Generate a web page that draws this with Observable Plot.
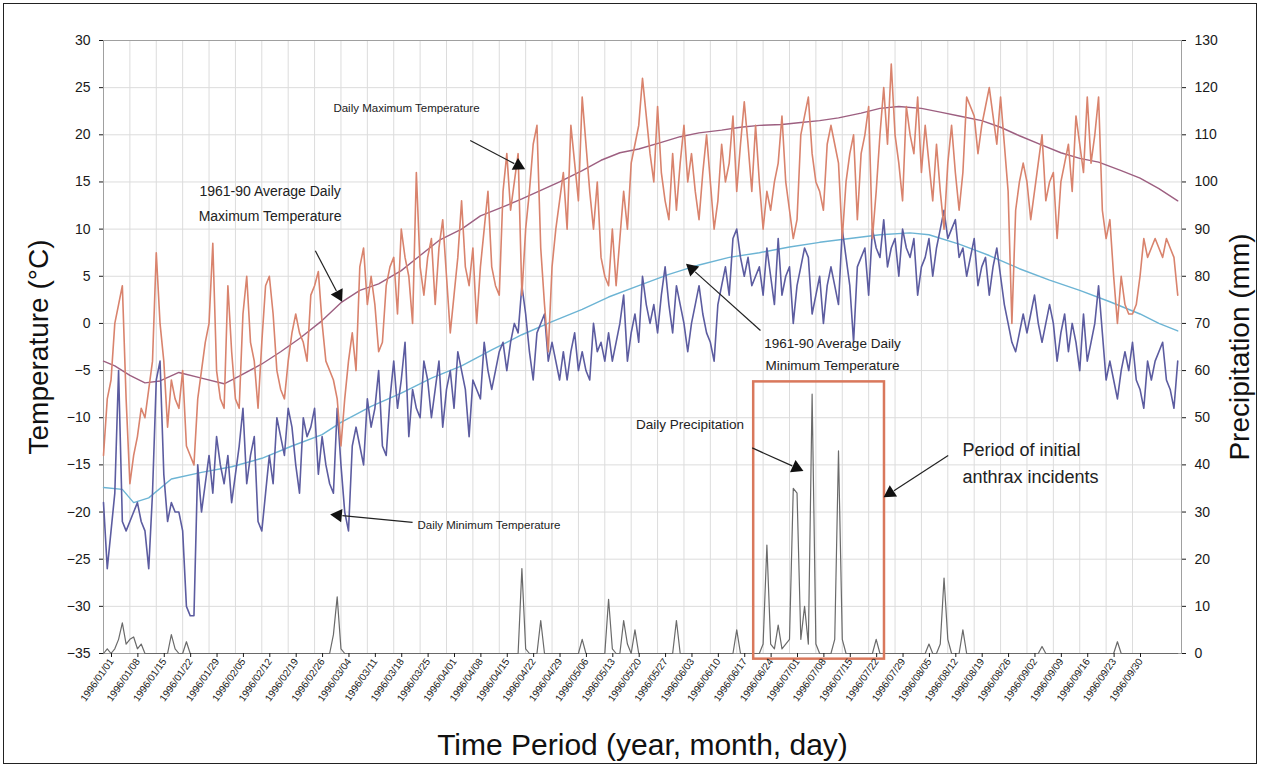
<!DOCTYPE html>
<html><head><meta charset="utf-8">
<script src="https://cdn.jsdelivr.net/npm/d3@7"></script>
<script src="https://cdn.jsdelivr.net/npm/@observablehq/plot@0.6"></script>
<style>
body{margin:0;background:#fff;}
#wrap{position:relative;width:1261px;height:766px;overflow:hidden;}
#border{position:absolute;left:3px;top:3px;width:1252px;height:759px;border:1.5px solid #222;pointer-events:none;}
</style></head>
<body><div id="wrap"><div id="chart"></div><div id="border"></div></div>
<script>
// ---- Data (daily series starting at the first category) ----
const tickLabels = ["1996/01/01","1996/01/08","1996/01/15","1996/01/22","1996/01/29","1996/02/05","1996/02/12","1996/02/19","1996/02/26","1996/03/04","1996/03/11","1996/03/18","1996/03/25","1996/04/01","1996/04/08","1996/04/15","1996/04/22","1996/04/29","1996/05/06","1996/05/13","1996/05/20","1996/05/27","1996/06/03","1996/06/10","1996/06/17","1996/06/24","1996/07/01","1996/07/08","1996/07/15","1996/07/22","1996/07/29","1996/08/05","1996/08/12","1996/08/19","1996/08/26","1996/09/02","1996/09/09","1996/09/16","1996/09/23","1996/09/30"];
const tempTicks = [-35,-30,-25,-20,-15,-10,-5,0,5,10,15,20,25,30];
const precipTicks = [0,10,20,30,40,50,60,70,80,90,100,110,120,130];

const maxTemp = [
-14,-8,-6,0,2,4,-8,-17,-14,-12,
-9,-10,-7,-4,7.5,0,-4,-11,-6,-8,
-9,-5,-13,-14,-15,-8,-5,-2,0,8.5,
-5,-8,-9,4,-3,-8,-9,1,5,-2,
-4,-9,-2,4,5,1,-5,-7,-8,-4,
-1,1,-1,-2,-4,3,4,5.5,0,-4,
-5,-6,-8,-13,-8,-4,-1,-5,6,8,
2,5,2,-3,-2,4,6,7,1,10,
7,5,0,16,6,3,7,9,2,8,
11,5,-1,3,7,13,6,4,8,0,
6,10,14,6,4,3,14,18,12,15,
18,3,10,14,19,21,8,2,-3,6,
10,13,16,10,21,17,13,24,19,14,
10,15,7,5,4,10,4,9,14,10,
17,19,21,26,22,18,15,23,16,13,
11,18,12,17,21,15,18,14,11,16,
20,15,10,13,19,15,17,22,14,19,
23.5,19,14,21,15,10,14,12,15,17,
22,15,12,9,11,20,22,24,18,15,
14,12,19,21,19,17,9,15,18,20,
11,18,20,23,9,14,20,25,19,27.5,
20,17,13,23,20,18,24,16,21,17,
13,19,14,10,17,21,16,12,16,24,
23,22,18,21,23,25,22,19,24,19,
14,0,12,15,17,15,11,14,17,20,
13,15,16,9,15,17,19,14,22,19,
16,24,17,20,24,12,9,11,5,0,
5,2,1,1,2,5,9,7,8,9,
8,7,9,8,7,3];

const minTemp = [
-19,-26,-22,-18,-5,-21,-22,-21,-20,-19,
-21,-22,-26,-18,-6,-4,-16,-21,-19,-20,
-20,-22,-30,-31,-31,-15,-20,-17,-14,-18,
-12,-15,-17,-14,-19,-16,-13,-9,-17,-14,
-12,-21,-22,-18,-14,-17,-10,-12,-14,-9,
-11,-15,-18,-10,-12,-11,-9,-16,-12,-15,
-17,-18,-9,-15,-20,-22,-13,-11,-13,-15,
-8,-11,-9,-5,-13,-14,-8,-4,-9,-6,
-2,-12,-7,-9,-10,-4,-6,-10,-7,-4,
-11,-7,-5,-9,-3,-5,-7,-12,-6,-7,
-8,-2,-5,-7,-5,-3,-2,-5,-2,0,
-1,4,1,-3,-6,-1,0,1,-4,-2,
-4,-6,-3,-6,-3,-1,-5,-3,-5,-6,
0,-3,-2,-4,-1,-4,-2,0,3,-4,
-1,1,-2,5,2,0,2,-1,3,6,
2,-1,4,2,0,-3,0,2,4,1,
-1,-2,-4,2,4,6,3,9,10,7,
5,7,4,5,6,3,8,5,2,9,
3,5,6,0,4,6,8,7,1,3,
5,0,4,6,4,2,10,7,4,-2,
6,7,8,3,10,8,7,11,6,8,
9,5,10,8,7,9,3,6,7,9,
5,8,10,12,9,10,11,7,8,5,
7,9,4,6,7,3,6,8,5,2,
0,-2,-3,-1,1,-1,1,3,0,-2,
0,2,0,-4,-1,1,-3,0,-2,-5,
1,-4,-2,0,4,-1,-6,-4,-6,-8,
-5,-3,-5,-2,-6,-7,-9,-4,-6,-4,
-3,-2,-6,-7,-9,-4];

const avgMaxDay  = [0,3,7,11,15,20,26,32,36,42,47,52,58,63,68,73,79,84,89,95,100,105,111,116,121,127,132,137,142,148,153,158,164,169,174,180,185,190,195,201,206,211,217,222,227,233,238,243,249,254,259,264,270,275,280,285];
const avgMaxTemp = [-4,-4.5,-5.5,-6.3,-6.1,-5.2,-5.8,-6.4,-5.6,-4.3,-3,-1.6,0.3,2.2,3.5,4.2,5.6,7.2,8.8,10,11.4,12.2,13.2,14.1,15,16.2,17.3,18.1,18.5,19.2,19.8,20.2,20.5,20.8,21,21.1,21.3,21.5,21.8,22.3,22.8,23,22.8,22.4,22,21.5,20.8,19.9,18.9,18.1,17.5,17.1,16.2,15.4,14.3,13];
const avgMinDay  = [0,5,8,12,18,26,34,42,50,58,63,71,79,87,95,103,111,119,127,134,142,150,158,166,174,182,190,198,206,214,219,227,235,243,251,259,267,275,280,285];
const avgMinTemp = [-17.4,-17.6,-19,-18.5,-16.5,-15.8,-15.2,-14.3,-13,-11.8,-10.5,-8.8,-7.4,-5.8,-4.5,-2.8,-1.2,0.2,1.5,2.8,4,5.2,6.2,7,7.5,8.1,8.6,9,9.4,9.6,9.4,8.4,7.2,5.8,4.6,3.5,2.3,1,0,-0.8];

const precip = [
0,1,0,1,3,6.5,2,3,3.5,1,
2,0,0,0,0,0,0,0,4,1,
0,0,2.5,0,0,0,0,0,0,0,
0,0,0,0,0,0,0,0,0,0,
0,0,0,0,0,0,0,0,0,0,
0,0,0,0,0,0,0,0,0,0,
0,4,12,1,0,0,0,0,0,0,
0,0,0,0,0,0,0,0,0,0,
0,0,0,0,0,0,0,0,0,0,
0,0,0,0,0,0,0,0,0,0,
0,0,0,0,0,0,0,0,0,0,
0,18,1,0,0,0,7,0,0,0,
0,0,0,0,0,0,0,3,0,0,
0,0,0,0,11.5,1,0,0,7,2,
0,5,0,0,0,0,0,0,0,0,
0,0,7,0,0,0,0,0,0,0,
0,0,0,0,0,0,0,0,5,0,
0,0,0,0,0,2,23,2,1,6,
1,2,3,35,34,3,10,2,55,2,
0,0,0,0,3,43,3,0,0,0,
0,0,0,0,0,3,0,0,0,0,
0,0,0,0,0,0,0,0,0,2,
0,0,2,16,3,0,0,0,5,0,
0,0,0,0,0,0,0,0,0,0,
0,0,0,0,0,0,0,0,0,1.5,
0,0,0,0,0,0,0,0,0,0,
0,0,0,0,0,0,0,0,0,2.5,
0,0,0,0,0,0,0,0,0,0,
0,0,0,0,0,0];

// Annotations (data coordinates: day index, temperature)
const labels = [
  {d: 61, t: 23.0, text: "Daily Maximum Temperature", anchor: "start", size: 11.5, lh: 1.4},
  {d: 44.2, t: 13.0, text: "1961-90 Average Daily\nMaximum Temperature", anchor: "middle", size: 14, lh: 1.8},
  {d: 193.4, t: -3.0, text: "1961-90 Average Daily\nMinimum Temperature", anchor: "middle", size: 13.5, lh: 1.65},
  {d: 155.6, t: -10.6, text: "Daily Precipitation", anchor: "middle", size: 13.5, lh: 1.4},
  {d: 227.9, t: -14.6, text: "Period of initial\nanthrax incidents", anchor: "start", size: 18, lh: 1.45},
  {d: 83.3, t: -21.2, text: "Daily Minimum Temperature", anchor: "start", size: 11.5, lh: 1.4}
];
const arrows = [
  {x1: 97.3, y1: 19.4, x2: 111.1, y2: 16.5},
  {x1: 56.2, y1: 7.7, x2: 62.9, y2: 2.6},
  {x1: 174.3, y1: -0.75, x2: 155.2, y2: 6.1},
  {x1: 172.1, y1: -13.2, x2: 184.9, y2: -15.5},
  {x1: 224.1, y1: -14.0, x2: 207.7, y2: -18.25},
  {x1: 82, y1: -21.1, x2: 61, y2: -20.3}
];
const periodBox = [{d1: 172.5, d2: 207.2, t1: -35.6, t2: -6.2}];

// ---- Layout ----
const W = 1261, H = 766, ML = 103, MR = 80, MT = 40, MB = 113;
const xDomain = [0, 286], yDomain = [-35, 30];
const precipToT = p => -35 + p * (yDomain[1] - yDomain[0]) / 130;

const tickDays = tickLabels.map((_, i) => i * 7);
const daily = arr => arr.map((v, i) => ({d: i, v}));
const pairs = (ds, vs) => ds.map((d, i) => ({d, v: vs[i]}));

const colMax = "#d9836d", colMin = "#5c5ca0", colAvgMax = "#9d5f80", colAvgMin = "#6cb4d4", colPrecip = "#6a6a6a";

// arrowheads computed in pixel space
const sx = Plot.scale({x: {domain: xDomain, range: [ML, W - MR]}});
const sy = Plot.scale({y: {domain: yDomain, range: [H - MB, MT]}});
const heads = arrows.map(a => {
  const px1 = sx.apply(a.x1), py1 = sy.apply(a.y1), px2 = sx.apply(a.x2), py2 = sy.apply(a.y2);
  const dx = px2 - px1, dy = py2 - py1, L = Math.hypot(dx, dy), ux = dx / L, uy = dy / L;
  const cx = px2 - ux * 4.5, cy = py2 - uy * 4.5;
  const bx = px2 - ux * 9, by = py2 - uy * 9;
  return {hx: sx.invert(cx), hy: sy.invert(cy), bx: sx.invert(bx), by: sy.invert(by), x1: a.x1, y1: a.y1,
          rot: Math.atan2(dx, -dy) * 180 / Math.PI};
});

const chart = Plot.plot({
  width: W, height: H, marginLeft: ML, marginRight: MR, marginTop: MT, marginBottom: MB,
  style: {fontFamily: "'Liberation Sans', Arial, sans-serif", background: "white", color: "#1a1a1a"},
  x: {domain: xDomain},
  y: {domain: yDomain},
  marks: [
    Plot.gridX(tickDays, {stroke: "#dcdcdc", strokeOpacity: 1}),
    Plot.gridY(tempTicks, {stroke: "#dcdcdc", strokeOpacity: 1}),
    Plot.frame({stroke: "#a0a0a0"}),
    Plot.line(daily(precip), {x: "d", y: d => precipToT(d.v), stroke: colPrecip, strokeWidth: 1.2}),
    Plot.line(pairs(avgMinDay, avgMinTemp), {x: "d", y: "v", stroke: colAvgMin, strokeWidth: 1.4}),
    Plot.line(pairs(avgMaxDay, avgMaxTemp), {x: "d", y: "v", stroke: colAvgMax, strokeWidth: 1.4}),
    Plot.line(daily(minTemp), {x: "d", y: "v", stroke: colMin, strokeWidth: 1.6}),
    Plot.line(daily(maxTemp), {x: "d", y: "v", stroke: colMax, strokeWidth: 1.6}),
    Plot.rect(periodBox, {x1: "d1", x2: "d2", y1: "t1", y2: "t2", fill: "none", stroke: "#d9785c", strokeWidth: 2.5}),
    Plot.axisX({ticks: tickDays, tickFormat: d => tickLabels[Math.round(d / 7)], tickRotate: -55, tickSize: 4, tickPadding: 2, fontSize: 10, dx: 8, label: null}),
    Plot.axisY({ticks: tempTicks, anchor: "left", tickSize: 4, tickPadding: 9, fontSize: 14, label: null}),
    Plot.axisY({ticks: precipTicks.map(precipToT), tickFormat: t => precipTicks[Math.round((t + 35) * 2 / 10)], anchor: "right", tickSize: 4, tickPadding: 9, fontSize: 14, label: null}),
    ...labels.map(l => Plot.text([l], {x: "d", y: "t", text: "text", textAnchor: l.anchor, fontSize: l.size, fill: "#222", lineHeight: l.lh})),
    Plot.link(heads, {x1: "x1", y1: "y1", x2: "bx", y2: "by", stroke: "#222", strokeWidth: 1.2}),
    Plot.dot(heads, {x: "hx", y: "hy", symbol: "triangle", r: 5, fill: "#111", stroke: "none", rotate: "rot"}),
    Plot.text(["Temperature (°C)"], {frameAnchor: "left", textAnchor: "middle", dx: -64, rotate: -90, fontSize: 28, fill: "#111"}),
    Plot.text(["Precipitation (mm)"], {frameAnchor: "right", textAnchor: "middle", dx: 59, rotate: -90, fontSize: 28, fill: "#111"}),
    Plot.text(["Time Period (year, month, day)"], {frameAnchor: "bottom", lineAnchor: "middle", dy: 92, fontSize: 30, fill: "#111"})
  ]
});
document.getElementById("chart").appendChild(chart);
</script>
</body></html>
